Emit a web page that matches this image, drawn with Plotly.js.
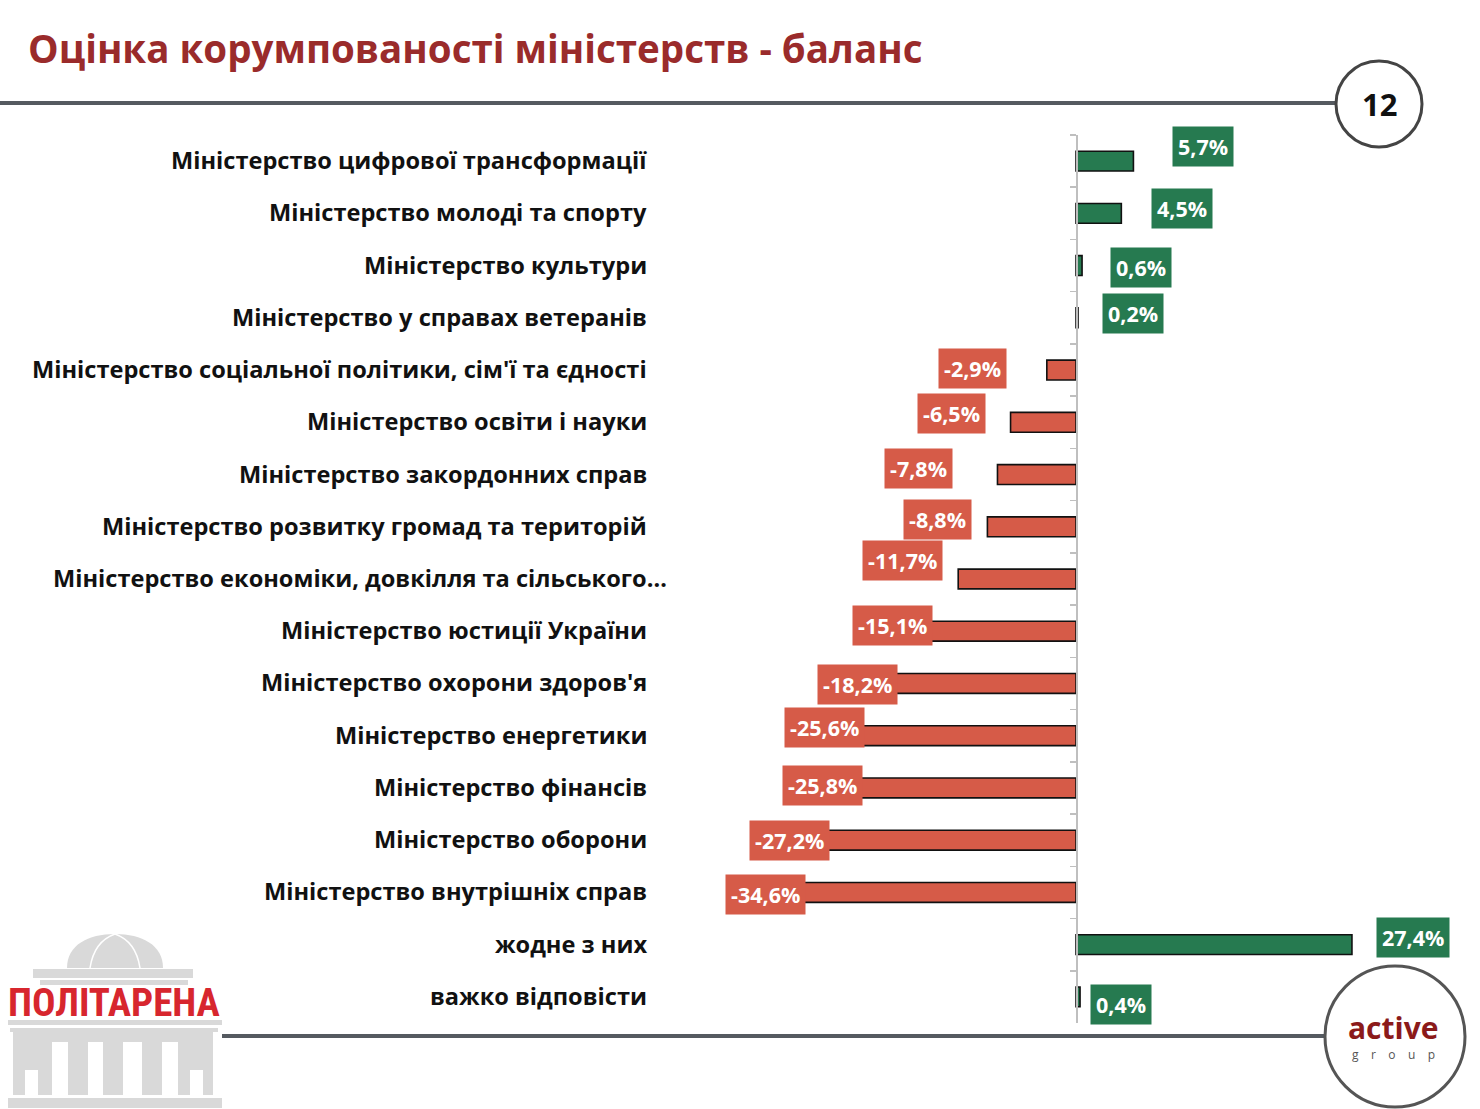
<!DOCTYPE html>
<html>
<head>
<meta charset="utf-8">
<script src="https://cdn.plot.ly/plotly-3.0.1.min.js"></script>
<style>html,body{margin:0;padding:0;background:#fff;}#chart{width:1480px;height:1109px;}</style>
</head>
<body>
<div id="chart"></div>
<script>
// ---- data ----
const categories = [
  "Міністерство цифрової трансформації",
  "Міністерство молоді та спорту",
  "Міністерство культури",
  "Міністерство у справах ветеранів",
  "Міністерство соціальної політики, сім'ї та єдності",
  "Міністерство освіти і науки",
  "Міністерство закордонних справ",
  "Міністерство розвитку громад та територій",
  "Міністерство економіки, довкілля та сільського…",
  "Міністерство юстиції України",
  "Міністерство охорони здоров'я",
  "Міністерство енергетики",
  "Міністерство фінансів",
  "Міністерство оборони",
  "Міністерство внутрішніх справ",
  "жодне з них",
  "важко відповісти"
];
const values = [5.7, 4.5, 0.6, 0.2, -2.9, -6.5, -7.8, -8.8, -11.7, -15.1, -18.2, -25.6, -25.8, -27.2, -34.6, 27.4, 0.4];
const titleText = "Оцінка корумпованості міністерств - баланс";
const pageNumber = "12";

// ---- styles ----
const GREEN = "#267A50", RED = "#D65B48";
// label offsets (px) relative to bar end: [xshift, yshift]
const labelShift = [
  [39, 15], [30, 5], [28, -2], [24, 4], [-40, 2], [-25, 9], [-44, 6], [-15, 7], [-15, 19],
  [9, 6], [5, -1], [47, 8], [47, 2], [28, 0], [78, -2], [24, 7], [10, -8]
];

const L = 673, R = 1459, T = 135, B = 1023;
const px = x => (x - L) / (R - L);
const py = y => (B - y) / (B - T);
const zeroFrac = px(1076);

const fmt = v => v.toFixed(1).replace('.', ',') + '%';

const trace = {
  type: 'bar', orientation: 'h',
  x: values, y: categories,
  width: 0.38,
  marker: { color: values.map(v => v >= 0 ? GREEN : RED), line: { color: '#111', width: 1.6 } },
  hoverinfo: 'skip'
};

const annotations = [];
categories.forEach((c, i) => {
  annotations.push({
    xref: 'paper', yref: 'y', x: 0, y: c, xanchor: 'right', yanchor: 'middle',
    xshift: i === 8 ? -4 : -24, yshift: 1, showarrow: false, text: c,
    font: { family: 'Open Sans', size: 23.6, weight: 700, color: '#111' }
  });
  const v = values[i];
  annotations.push({
    xref: 'x', yref: 'y', x: v, y: c, xanchor: v >= 0 ? 'left' : 'right', yanchor: 'middle',
    xshift: labelShift[i][0], yshift: labelShift[i][1], showarrow: false, text: fmt(v),
    bgcolor: v >= 0 ? GREEN : RED, borderpad: 5,
    font: { family: 'Open Sans', size: 21.5, weight: 700, color: '#fff' }
  });
});

// page number and logos text
const pa = (x, y, text, font) => ({ xref: 'paper', yref: 'paper', x: px(x), y: py(y), xanchor: 'center', yanchor: 'middle', text: text, showarrow: false, font: font });
annotations.push(pa(1379, 104, pageNumber, { family: 'Open Sans', size: 31, weight: 700, color: '#111' }));
annotations.push(pa(1393, 1027, 'active', { family: 'Open Sans', size: 30, weight: 700, color: '#8B1A1A' }));
annotations.push(pa(1393, 1054, 'g    r    o    u    p', { family: 'Open Sans', size: 12, color: '#555' }));
annotations.push(pa(114, 1003, 'ПОЛІТАРЕНА', { family: 'Roboto Condensed, Roboto', size: 39, weight: 700, color: '#D7262E' }));

const G = '#d9d9d9';
const rect = (x0, y0, x1, y1, color) => ({ type: 'rect', xref: 'paper', yref: 'paper', layer: 'below',
  x0: px(x0), x1: px(x1), y0: py(y0), y1: py(y1), fillcolor: color, line: { width: 0 } });
const P = (x, y) => px(x).toFixed(5) + ',' + py(y).toFixed(5);

const shapes = [
  // header line
  { type: 'line', xref: 'paper', yref: 'paper', x0: px(0), x1: px(1336), y0: py(103), y1: py(103), line: { color: '#555a60', width: 4 } },
  // page circle
  { type: 'circle', xref: 'paper', yref: 'paper', x0: px(1336), x1: px(1422), y0: py(61), y1: py(147), fillcolor: '#fff', line: { color: '#444', width: 3 } },
  // bottom line
  { type: 'line', xref: 'paper', yref: 'paper', x0: px(222), x1: px(1325), y0: py(1036), y1: py(1036), line: { color: '#555a60', width: 4 } },
  // active circle
  { type: 'circle', xref: 'paper', yref: 'paper', x0: px(1325), x1: px(1465), y0: py(966), y1: py(1107), fillcolor: '#fff', line: { color: '#555', width: 3 } },
  // logo: dome
  { type: 'path', xref: 'paper', yref: 'paper', layer: 'below', fillcolor: G, line: { width: 0 },
    path: 'M' + P(67, 968) + ' C' + P(67, 945) + ' ' + P(88, 934) + ' ' + P(115, 934) + ' C' + P(142, 934) + ' ' + P(163, 945) + ' ' + P(163, 968) + ' Z' },
  { type: 'path', xref: 'paper', yref: 'paper', layer: 'below', line: { color: '#fff', width: 1.5 },
    path: 'M' + P(115, 934) + ' C' + P(98, 940) + ' ' + P(92, 955) + ' ' + P(90, 968) },
  { type: 'path', xref: 'paper', yref: 'paper', layer: 'below', line: { color: '#fff', width: 1.5 },
    path: 'M' + P(115, 934) + ' C' + P(132, 940) + ' ' + P(138, 955) + ' ' + P(140, 968) },
  rect(33, 969, 193, 978, G),
  rect(40, 980, 188, 985, G),
  rect(8, 1020, 222, 1025, G),
  rect(10, 1028, 218, 1032, G),
  rect(13, 1032, 213, 1095, G),
  rect(25, 1070, 38, 1095, '#fff'),
  rect(52, 1042, 68, 1095, '#fff'),
  rect(88, 1042, 103, 1095, '#fff'),
  rect(123, 1042, 142, 1095, '#fff'),
  rect(162, 1042, 178, 1095, '#fff'),
  rect(190, 1070, 203, 1095, '#fff'),
  rect(8, 1098, 222, 1108, G)
];

const layout = {
  width: 1480, height: 1109,
  margin: { l: L, r: 1480 - R, t: T, b: 1109 - B },
  paper_bgcolor: '#fff', plot_bgcolor: 'rgba(0,0,0,0)',
  showlegend: false,
  title: { text: titleText, xref: 'container', yref: 'container', x: 28 / 1480, xanchor: 'left',
    y: 1 - 50 / 1109, yanchor: 'middle',
    font: { family: 'Open Sans', size: 38.5, weight: 700, color: '#9A2B2B' } },
  xaxis: { range: [-40.02, 38.03], visible: false, fixedrange: true },
  yaxis: { type: 'category', categoryorder: 'array', categoryarray: categories, range: [16.5, -0.5],
    anchor: 'free', position: zeroFrac, showline: true, linecolor: '#bfbfbf', linewidth: 1.5,
    ticks: 'outside', tickson: 'boundaries', ticklen: 6, tickcolor: '#bfbfbf', tickwidth: 1.5,
    showticklabels: false, showgrid: false, zeroline: false, fixedrange: true },
  annotations: annotations,
  shapes: shapes
};

Plotly.newPlot('chart', [trace], layout, { displayModeBar: false, staticPlot: true });
</script>
</body>
</html>
